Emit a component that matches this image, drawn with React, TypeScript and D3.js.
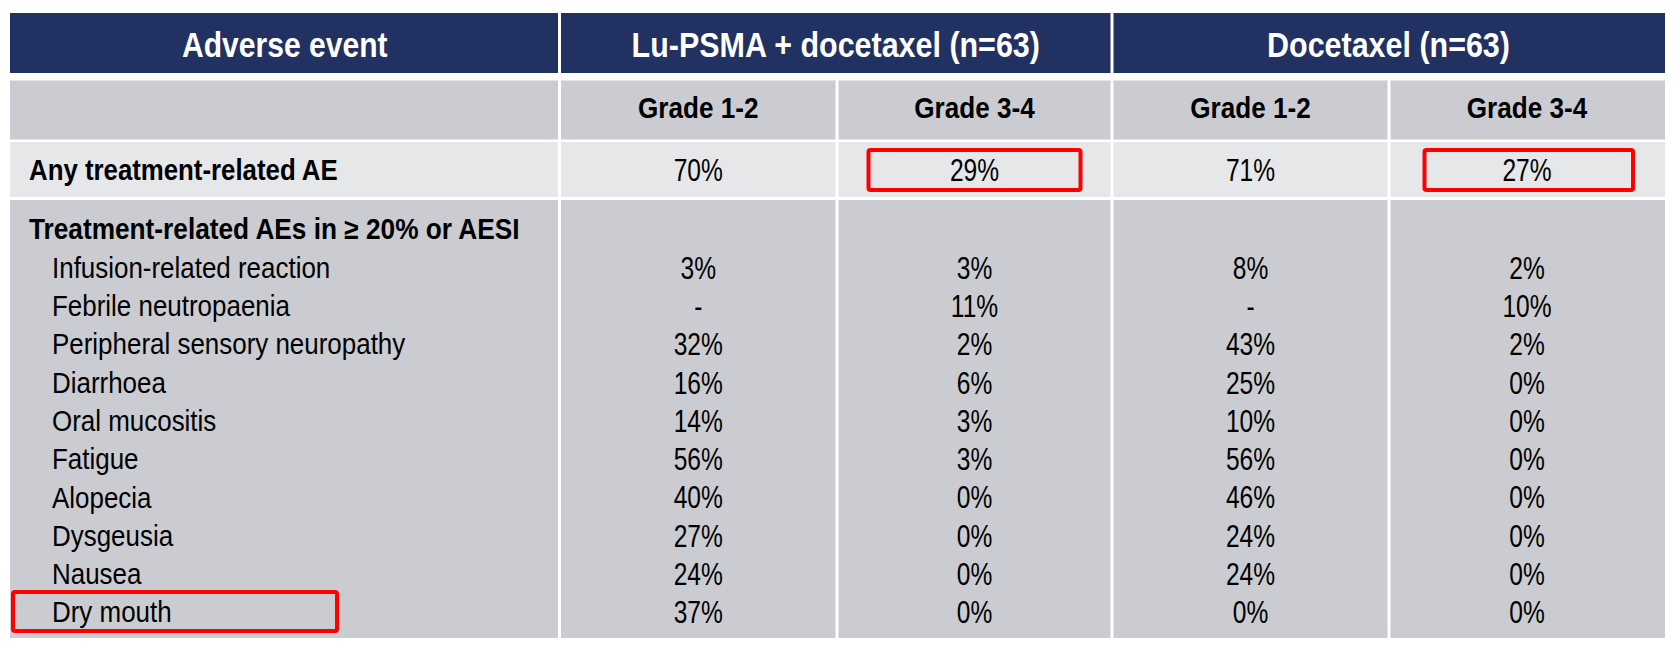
import React from "react";
import * as d3 from "d3";

const groupLabels = ["Lu-PSMA + docetaxel (n=63)", "Docetaxel (n=63)"];
const gradeLabels = ["Grade 1-2", "Grade 3-4"];
const firstHeader = "Adverse event";
const anyLabel = "Any treatment-related AE";
const anyValues = ["70%", "29%", "71%", "27%"];
const sectionLabel = "Treatment-related AEs in \u2265 20% or AESI";
const events = [
  "Infusion-related reaction",
  "Febrile neutropaenia",
  "Peripheral sensory neuropathy",
  "Diarrhoea",
  "Oral mucositis",
  "Fatigue",
  "Alopecia",
  "Dysgeusia",
  "Nausea",
  "Dry mouth",
];
const luGrade12 = ["3%", "-", "32%", "16%", "14%", "56%", "40%", "27%", "24%", "37%"];
const luGrade34 = ["3%", "11%", "2%", "6%", "3%", "3%", "0%", "0%", "0%", "0%"];
const docGrade12 = ["8%", "-", "43%", "25%", "10%", "56%", "46%", "24%", "24%", "0%"];
const docGrade34 = ["2%", "10%", "2%", "0%", "0%", "0%", "0%", "0%", "0%", "0%"];
const highlightedAny = [1, 3];
const highlightedEvent = "Dry mouth";

const W = 1679;
const H = 649;
const NAVY = "#203162";
const GREY = "#CBCCD1";
const LIGHT = "#E6E7E9";
const RED = "#FF0000";
const FONT = "'Liberation Sans', Arial, sans-serif";

// column layout
const colX = d3.scaleLinear().domain([0, 1, 2, 3, 4, 5]).range([10, 559.5, 837, 1112, 1389, 1665]);
const GAP = 3;

function NText({ x, y, size, bold, sx = 0.82, color = "#000", anchor = "middle", children }: any) {
  return (
    <g transform={`translate(${x},${y}) scale(${sx},1)`}>
      <text
        x={0}
        y={0}
        dy="0.36em"
        fontFamily={FONT}
        fontSize={size}
        fontWeight={bold ? "bold" : "normal"}
        fill={color}
        textAnchor={anchor}
      >
        {children}
      </text>
    </g>
  );
}

export default function App() {
  const header = { y0: 13, y1: 73 };
  const gradeRow = { y0: 80.5, y1: 139.5 };
  const anyRow = { y0: 142, y1: 197 };
  const body = { y0: 200, y1: 638 };

  const bodyRows = [sectionLabel, ...events];
  const rowY = d3.scalePoint<string>().domain(bodyRows).range([229, 612]);

  const cols = [luGrade12, luGrade34, docGrade12, docGrade34];
  const cellX0 = (i: number) => colX(i) + (i === 0 ? 0 : GAP / 2);
  const cellX1 = (i: number) => colX(i + 1) - (i === 4 ? 0 : GAP / 2);
  const cx = (i: number) => (colX(i) + colX(i + 1)) / 2;

  const VAL = 31.5;
  const VALSX = 0.78;
  const LAB = 29;
  const LABSX = 0.895;

  return (
    <svg width={W} height={H} style={{ position: "absolute", left: 0, top: 0, background: "#fff" }}>
      <rect x={0} y={0} width={W} height={H} fill="#fff" />
      {/* header row */}
      {[
        [0, 1],
        [1, 3],
        [3, 5],
      ].map(([a, b], k) => (
        <rect
          key={"h" + k}
          x={cellX0(a)}
          y={header.y0}
          width={cellX1(b - 1) - cellX0(a)}
          height={header.y1 - header.y0}
          fill={NAVY}
        />
      ))}
      <NText x={cx(0)} y={44.5} size={35} sx={0.86} bold color="#fff">
        {firstHeader}
      </NText>
      {groupLabels.map((g, k) => (
        <NText key={g} x={(colX(1 + 2 * k) + colX(3 + 2 * k)) / 2} y={44.5} size={35} sx={0.87} bold color="#fff">
          {g}
        </NText>
      ))}

      {/* grade row */}
      {[0, 1, 2, 3, 4].map((i) => (
        <rect key={"g" + i} x={cellX0(i)} y={gradeRow.y0} width={cellX1(i) - cellX0(i)} height={gradeRow.y1 - gradeRow.y0} fill={GREY} />
      ))}
      {[1, 2, 3, 4].map((i) => (
        <NText key={"gt" + i} x={cx(i)} y={107} size={29.5} sx={0.885} bold>
          {gradeLabels[(i - 1) % 2]}
        </NText>
      ))}

      {/* any row */}
      {[0, 1, 2, 3, 4].map((i) => (
        <rect key={"a" + i} x={cellX0(i)} y={anyRow.y0} width={cellX1(i) - cellX0(i)} height={anyRow.y1 - anyRow.y0} fill={LIGHT} />
      ))}
      <NText x={29} y={170} size={29} sx={0.89} bold anchor="start">
        {anyLabel}
      </NText>
      {anyValues.map((v, k) => (
        <NText key={"av" + k} x={cx(k + 1)} y={170} size={VAL} sx={VALSX}>
          {v}
        </NText>
      ))}

      {/* body */}
      {[0, 1, 2, 3, 4].map((i) => (
        <rect key={"b" + i} x={cellX0(i)} y={body.y0} width={cellX1(i) - cellX0(i)} height={body.y1 - body.y0} fill={GREY} />
      ))}
      <NText x={29} y={rowY(sectionLabel)} size={29} sx={0.905} bold anchor="start">
        {sectionLabel}
      </NText>
      {events.map((e, r) => (
        <g key={e}>
          <NText x={52} y={rowY(e)} size={LAB} sx={LABSX} anchor="start">
            {e}
          </NText>
          {cols.map((c, k) => (
            <NText key={k} x={cx(k + 1)} y={rowY(e)} size={VAL} sx={VALSX}>
              {c[r]}
            </NText>
          ))}
        </g>
      ))}

      {/* highlight boxes */}
      {highlightedAny.map((k) => (
        <rect
          key={"hb" + k}
          x={cellX0(k + 1) + (k === 1 ? 30 : 34)}
          y={150}
          width={cellX1(k + 1) - cellX0(k + 1) - (k === 1 ? 60 : 66)}
          height={40}
          fill="none"
          stroke={RED}
          strokeWidth={4}
          rx={2}
        />
      ))}
      <rect
        x={13}
        y={(rowY(highlightedEvent) as number) - 20}
        width={324}
        height={39}
        fill="none"
        stroke={RED}
        strokeWidth={4}
        rx={2}
      />
    </svg>
  );
}
